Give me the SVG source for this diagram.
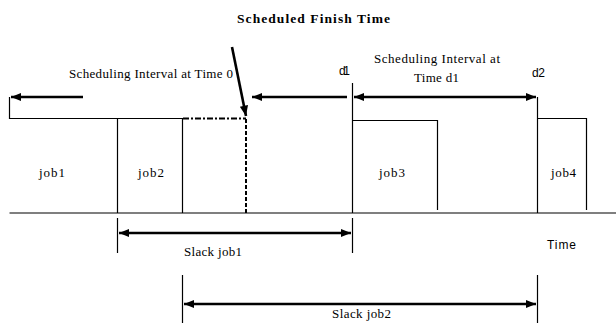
<svg xmlns="http://www.w3.org/2000/svg" width="616" height="325" viewBox="0 0 616 325">
<defs>
<marker id="ah" viewBox="0 0 10 10" refX="10" refY="5" markerWidth="4" markerHeight="4" orient="auto-start-reverse" markerUnits="strokeWidth">
<path d="M0,1 L10,5 L0,9 Z" fill="#000"/>
</marker>
<style>
.thin{stroke:#000;stroke-width:1.2;fill:none}
.bold{stroke:#000;stroke-width:2.6;fill:none}
.t{font-family:"Liberation Serif","Times New Roman",serif;font-size:13px;fill:#000}
.s{font-family:"Liberation Sans",Arial,sans-serif;font-size:12px;fill:#000}
.b{font-family:"Liberation Serif","Times New Roman",serif;font-size:13.5px;font-weight:bold;fill:#000}
</style>
</defs>
<rect width="616" height="325" fill="#fff"/>
<text class="b" x="237" y="23" textLength="153" lengthAdjust="spacing">Scheduled Finish Time</text>
<g id="axis">
<line class="thin" x1="9.5" y1="213" x2="616" y2="213"/>
<text class="s" x="547" y="249" textLength="29" lengthAdjust="spacing">Time</text>
</g>
<g id="job1">
<polyline class="thin" points="9.5,97 9.5,118.5 117.5,118.5 117.5,213"/>
<text class="t" x="39" y="177" textLength="26" lengthAdjust="spacing">job1</text>
</g>
<g id="job2">
<polyline class="thin" points="117.5,118.5 182.5,118.5 182.5,213"/>
<text class="t" x="138" y="177" textLength="26" lengthAdjust="spacing">job2</text>
</g>
<g id="finish">
<line x1="183" y1="118.5" x2="246" y2="118.5" stroke="#000" stroke-width="1.8" stroke-dasharray="6,2,2,2"/>
<line x1="246" y1="119" x2="246" y2="213" stroke="#000" stroke-width="2" stroke-dasharray="4,2"/>
</g>
<g id="job3">
<polyline class="thin" points="352.5,83 352.5,213"/>
<polyline class="thin" points="352.5,120.5 437.5,120.5 437.5,210"/>
<text class="t" x="379" y="177" textLength="26" lengthAdjust="spacing">job3</text>
</g>
<g id="job4">
<polyline class="thin" points="537.5,97 537.5,213"/>
<polyline class="thin" points="537.5,118.5 586.5,118.5 586.5,210"/>
<text class="t" x="551" y="177" textLength="25" lengthAdjust="spacing">job4</text>
</g>
<g id="labels">
<text class="t" x="69" y="78" textLength="164" lengthAdjust="spacing">Scheduling Interval at Time 0</text>
<text class="s" x="339" y="75" textLength="11" lengthAdjust="spacing">d1</text>
<text class="s" x="532" y="77" textLength="13" lengthAdjust="spacing">d2</text>
<text class="t" x="374" y="63" textLength="126" lengthAdjust="spacing">Scheduling Interval at</text>
<text class="t" x="414" y="82" textLength="45" lengthAdjust="spacing">Time d1</text>
<text class="t" x="184" y="256" textLength="58" lengthAdjust="spacing">Slack job1</text>
<text class="t" x="332" y="318" textLength="59" lengthAdjust="spacing">Slack job2</text>
</g>
<g id="connectors">
<line class="bold" x1="83" y1="97" x2="11" y2="97" marker-end="url(#ah)"/>
<line class="bold" x1="347" y1="97" x2="252" y2="97" marker-end="url(#ah)"/>
<line class="bold" x1="354" y1="97" x2="536" y2="97" marker-start="url(#ah)" marker-end="url(#ah)"/>
<line class="bold" x1="232" y1="47" x2="246" y2="116" marker-end="url(#ah)"/>
<line class="thin" x1="117.5" y1="218" x2="117.5" y2="253"/>
<line class="thin" x1="352.5" y1="218" x2="352.5" y2="253"/>
<line class="bold" x1="119" y1="233" x2="351" y2="233" marker-start="url(#ah)" marker-end="url(#ah)"/>
<line class="thin" x1="182.5" y1="275" x2="182.5" y2="323"/>
<line class="thin" x1="537.5" y1="275" x2="537.5" y2="323"/>
<line class="bold" x1="184" y1="304" x2="536" y2="304" marker-start="url(#ah)" marker-end="url(#ah)"/>
</g>
</svg>
